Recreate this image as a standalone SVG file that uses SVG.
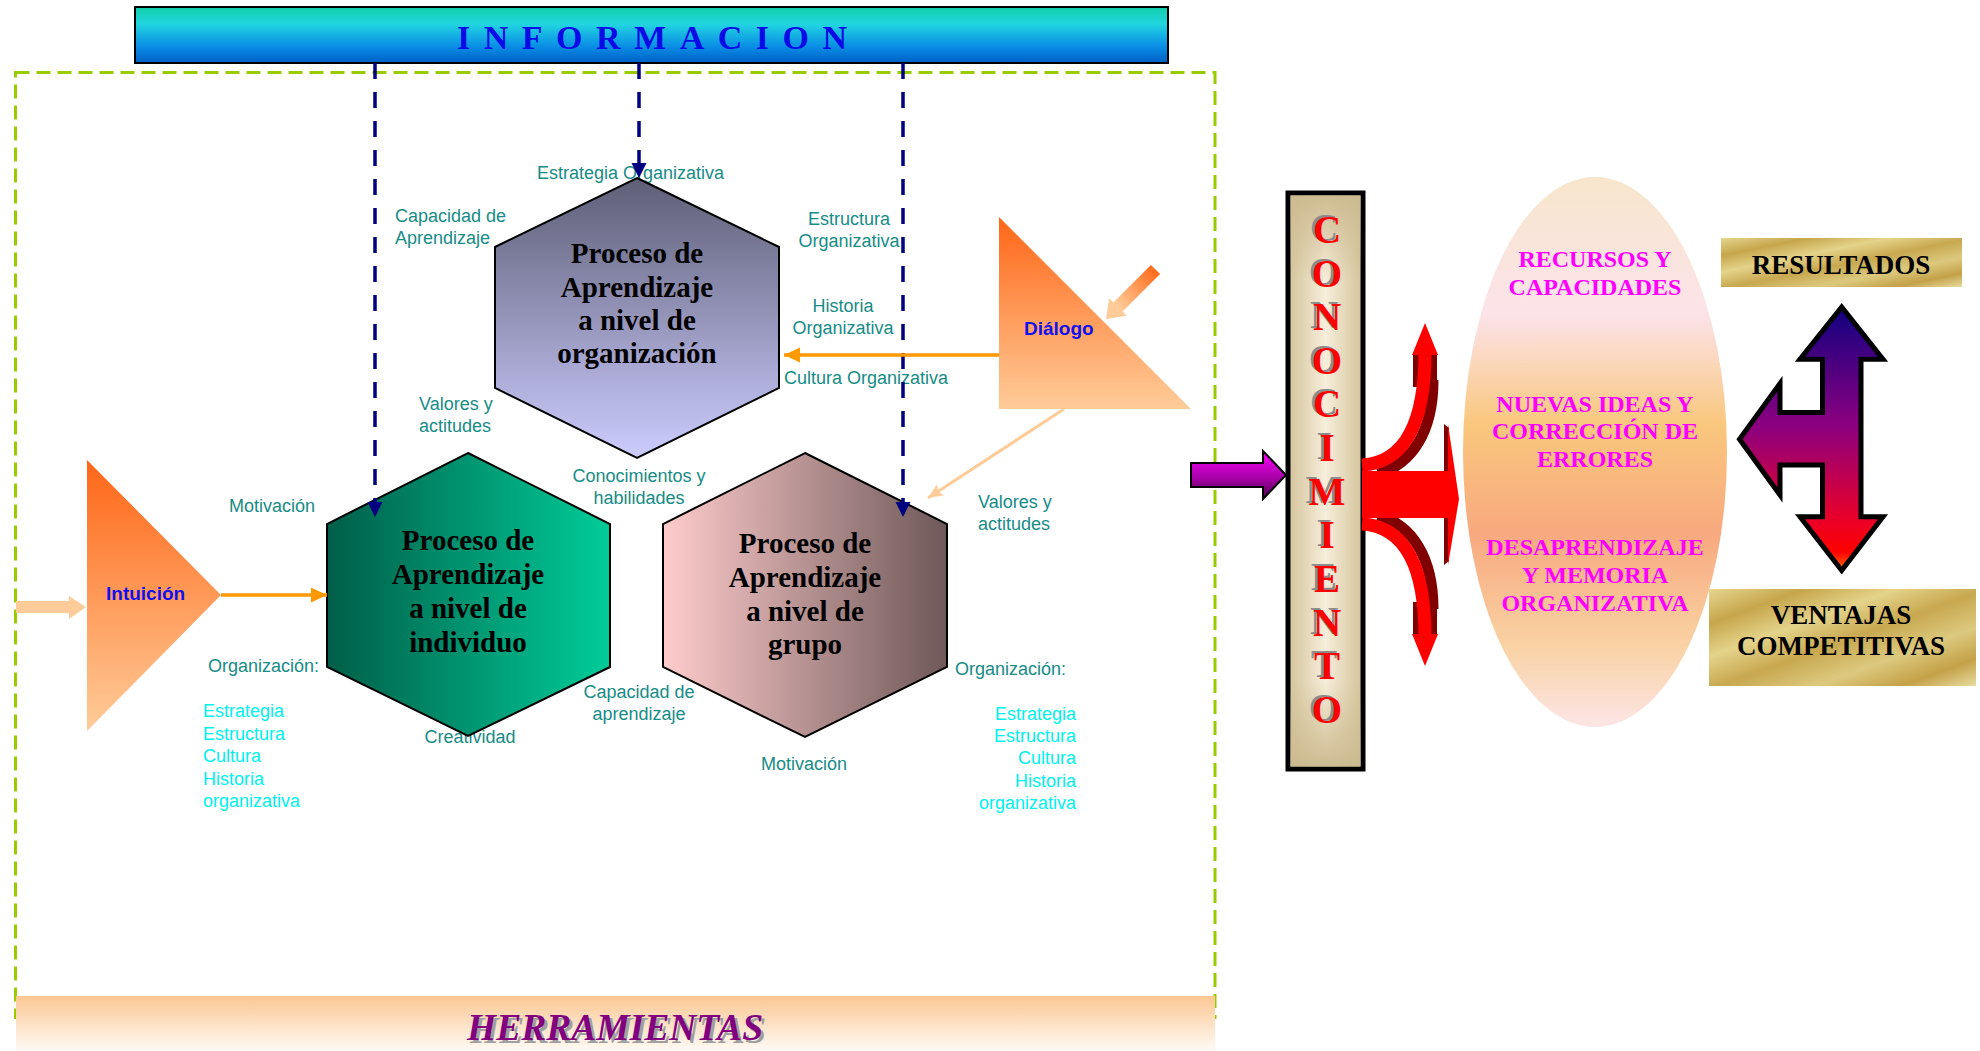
<svg xmlns="http://www.w3.org/2000/svg" width="1980" height="1051" viewBox="0 0 1980 1051">
<defs>
<linearGradient id="gInfo" x1="0" y1="0" x2="0" y2="1">
<stop offset="0" stop-color="#10CFA8"/><stop offset="0.3" stop-color="#22D6E0"/><stop offset="0.7" stop-color="#0A8EE6"/><stop offset="1" stop-color="#0060C6"/>
</linearGradient>
<linearGradient id="gHerr" x1="0" y1="0" x2="0" y2="1">
<stop offset="0" stop-color="#FCC793"/><stop offset="1" stop-color="#FFFAF5"/>
</linearGradient>
<linearGradient id="gOrg" x1="0" y1="0" x2="0" y2="1">
<stop offset="0" stop-color="#5E5E76"/><stop offset="1" stop-color="#CCCCFF"/>
</linearGradient>
<linearGradient id="gInd" x1="0" y1="0" x2="1" y2="0">
<stop offset="0" stop-color="#005E48"/><stop offset="1" stop-color="#00CC99"/>
</linearGradient>
<linearGradient id="gGrp" x1="0" y1="0" x2="1" y2="0">
<stop offset="0" stop-color="#FFCCCC"/><stop offset="1" stop-color="#6E5858"/>
</linearGradient>
<linearGradient id="gTri" x1="0" y1="0" x2="0" y2="1">
<stop offset="0" stop-color="#FF6617"/><stop offset="1" stop-color="#FFCC99"/>
</linearGradient>
<linearGradient id="gSmall" gradientUnits="userSpaceOnUse" x1="-70" y1="0" x2="-17" y2="0">
<stop offset="0" stop-color="#FF6A1A"/><stop offset="1" stop-color="#FFCC99"/>
</linearGradient>
<linearGradient id="gPurp" x1="0" y1="0" x2="0" y2="1">
<stop offset="0" stop-color="#FF00FF"/><stop offset="0.6" stop-color="#A000A0"/><stop offset="1" stop-color="#4A004A"/>
</linearGradient>
<linearGradient id="gBarH" x1="0" y1="0" x2="1" y2="0">
<stop offset="0" stop-color="#D3C39A"/><stop offset="0.5" stop-color="#F7EEDB"/><stop offset="1" stop-color="#D3C39A"/>
</linearGradient>
<linearGradient id="gBarV" x1="0" y1="0" x2="0" y2="1">
<stop offset="0" stop-color="#CDBB90" stop-opacity="1"/><stop offset="0.15" stop-color="#CDBB90" stop-opacity="0"/><stop offset="0.85" stop-color="#CDBB90" stop-opacity="0"/><stop offset="1" stop-color="#CDBB90" stop-opacity="1"/>
</linearGradient>
<linearGradient id="gEll" x1="0" y1="0" x2="0" y2="1">
<stop offset="0" stop-color="#F7E6CC"/><stop offset="0.25" stop-color="#FCE3EA"/><stop offset="0.45" stop-color="#F9C77D"/><stop offset="0.65" stop-color="#F8A97F"/><stop offset="0.85" stop-color="#F9D2A3"/><stop offset="1" stop-color="#FCE5E5"/>
</linearGradient>
<linearGradient id="gGold" x1="0" y1="0" x2="1" y2="1">
<stop offset="0" stop-color="#E6D690"/><stop offset="0.18" stop-color="#C6A64C"/><stop offset="0.35" stop-color="#E4D38A"/><stop offset="0.52" stop-color="#C8A850"/><stop offset="0.7" stop-color="#DCC97E"/><stop offset="0.86" stop-color="#C4A148"/><stop offset="1" stop-color="#E8DCA0"/>
</linearGradient>
<linearGradient id="gH" x1="0" y1="0" x2="0" y2="1">
<stop offset="0" stop-color="#100080"/><stop offset="0.45" stop-color="#8B0080"/><stop offset="0.8" stop-color="#E8002A"/><stop offset="0.93" stop-color="#FF0000"/><stop offset="1" stop-color="#FF7000"/>
</linearGradient>
<marker id="mNavy" markerUnits="userSpaceOnUse" markerWidth="16" markerHeight="16" refX="15" refY="7.5" orient="auto">
<path d="M0,0 L15,7.5 L0,15 Z" fill="#000080"/>
</marker>
<marker id="mOrange" markerUnits="userSpaceOnUse" markerWidth="17" markerHeight="16" refX="16" refY="7.5" orient="auto">
<path d="M0,0 L16,7.5 L0,15 Z" fill="#FF9900"/>
</marker>
<marker id="mPeach" markerUnits="userSpaceOnUse" markerWidth="16" markerHeight="14" refX="15" refY="6.5" orient="auto">
<path d="M0,0 L15,6.5 L0,13 L3,6.5 Z" fill="#FFCC99"/>
</marker>
</defs>
<style>
.lbl{font-family:"Liberation Sans",Arial,sans-serif;font-size:18px;fill:#168C86}
.cy{font-family:"Liberation Sans",Arial,sans-serif;font-size:18px;fill:#00F0F0}
.mid{text-anchor:middle}
.end{text-anchor:end}
.hx{font-family:"Liberation Serif","Times New Roman",serif;font-weight:bold;font-size:29px;fill:#000;text-anchor:middle}
.blue{font-family:"Liberation Sans",Arial,sans-serif;font-weight:bold;font-size:19px;fill:#1010F0}
.mag{font-family:"Liberation Serif","Times New Roman",serif;font-weight:bold;font-size:24px;fill:#FF00FF;text-anchor:middle}
.gold{font-family:"Liberation Serif","Times New Roman",serif;font-weight:bold;font-size:27px;fill:#000;text-anchor:middle}
.con{font-family:"Liberation Serif","Times New Roman",serif;font-weight:900;font-size:39px;text-anchor:middle}
.hex{stroke:#000;stroke-width:2}
</style>
<rect width="1980" height="1051" fill="#FFFFFF"/>

<g id="border">
<rect x="15.5" y="72.5" width="1199.5" height="945" fill="none" stroke="#99CC00" stroke-width="3" stroke-dasharray="14 7"/>
</g>

<g id="herramientas">
<rect x="16" y="996" width="1199" height="55" fill="url(#gHerr)"/>
<text x="618" y="1043" font-family="Liberation Serif,Times New Roman,serif" font-weight="bold" font-style="italic" font-size="38" fill="#A0A0A0" text-anchor="middle" textLength="296" lengthAdjust="spacingAndGlyphs">HERRAMIENTAS</text>
<text x="615" y="1040" font-family="Liberation Serif,Times New Roman,serif" font-weight="bold" font-style="italic" font-size="38" fill="#800080" text-anchor="middle" textLength="296" lengthAdjust="spacingAndGlyphs">HERRAMIENTAS</text>
</g>

<g id="informacion">
<rect x="135" y="7" width="1033" height="56" fill="url(#gInfo)" stroke="#000" stroke-width="2"/>
<text x="457" y="49" font-family="Liberation Serif,Times New Roman,serif" font-weight="bold" font-size="34" fill="#0A0AE6" textLength="390" lengthAdjust="spacing">INFORMACION</text>
</g>

<g id="labels">
<text class="lbl" x="537" y="179">Estrategia Organizativa</text>
<text class="lbl" x="395" y="222">Capacidad de</text>
<text class="lbl" x="395" y="244">Aprendizaje</text>
<text class="lbl mid" x="849" y="225">Estructura</text>
<text class="lbl mid" x="849" y="247">Organizativa</text>
<text class="lbl mid" x="843" y="312">Historia</text>
<text class="lbl mid" x="843" y="334">Organizativa</text>
<text class="lbl" x="784" y="384">Cultura Organizativa</text>
<text class="lbl" x="419" y="410">Valores y</text>
<text class="lbl" x="419" y="432">actitudes</text>
<text class="lbl mid" x="639" y="482">Conocimientos y</text>
<text class="lbl mid" x="639" y="504">habilidades</text>
<text class="lbl" x="229" y="512">Motivación</text>
<text class="lbl" x="208" y="672">Organización:</text>
<text class="cy" x="203" y="717">Estrategia</text>
<text class="cy" x="203" y="740">Estructura</text>
<text class="cy" x="203" y="762">Cultura</text>
<text class="cy" x="203" y="785">Historia</text>
<text class="cy" x="203" y="807">organizativa</text>
<text class="lbl mid" x="470" y="743">Creatividad</text>
<text class="lbl mid" x="639" y="698">Capacidad de</text>
<text class="lbl mid" x="639" y="720">aprendizaje</text>
<text class="lbl" x="978" y="508">Valores y</text>
<text class="lbl" x="978" y="530">actitudes</text>
<text class="lbl" x="955" y="675">Organización:</text>
<text class="cy end" x="1076" y="720">Estrategia</text>
<text class="cy end" x="1076" y="742">Estructura</text>
<text class="cy end" x="1076" y="764">Cultura</text>
<text class="cy end" x="1076" y="787">Historia</text>
<text class="cy end" x="1076" y="809">organizativa</text>
<text class="lbl mid" x="804" y="770">Motivación</text>
</g>

<g id="hex-organizacion">
<polygon class="hex" points="637,178 779,247 779,388 637,458 495,388 495,247" fill="url(#gOrg)"/>
<text class="hx" x="637" y="263">Proceso de</text>
<text class="hx" x="637" y="297">Aprendizaje</text>
<text class="hx" x="637" y="330">a nivel de</text>
<text class="hx" x="637" y="363">organización</text>
</g>

<g id="hex-individuo">
<polygon class="hex" points="468,453 610,524 610,667 468,736 327,667 327,524" fill="url(#gInd)"/>
<text class="hx" x="468" y="550">Proceso de</text>
<text class="hx" x="468" y="584">Aprendizaje</text>
<text class="hx" x="468" y="618">a nivel de</text>
<text class="hx" x="468" y="652">individuo</text>
</g>

<g id="hex-grupo">
<polygon class="hex" points="805,453 947,524 947,667 805,737 663,667 663,524" fill="url(#gGrp)"/>
<text class="hx" x="805" y="553">Proceso de</text>
<text class="hx" x="805" y="587">Aprendizaje</text>
<text class="hx" x="805" y="621">a nivel de</text>
<text class="hx" x="805" y="654">grupo</text>
</g>

<g id="intuicion">
<polygon points="87,460 221,595 87,731" fill="url(#gTri)"/>
<text class="blue" x="106" y="600" font-size="20">Intuición</text>
</g>

<g id="dialogo">
<polygon points="999,217 1191,409 999,409" fill="url(#gTri)"/>
<text class="blue" x="1024" y="335">Diálogo</text>
</g>

<g id="connectors">
<path d="M375,63 V517" stroke="#000080" stroke-width="3.5" stroke-dasharray="16 13" fill="none" marker-end="url(#mNavy)"/>
<path d="M639,63 V178" stroke="#000080" stroke-width="3.5" stroke-dasharray="16 13" fill="none" marker-end="url(#mNavy)"/>
<path d="M903,63 V517" stroke="#000080" stroke-width="3.5" stroke-dasharray="16 13" fill="none" marker-end="url(#mNavy)"/>
<path d="M999,355 H784" stroke="#FF9900" stroke-width="3.5" fill="none" marker-end="url(#mOrange)"/>
<path d="M221,595 H327" stroke="#FF9900" stroke-width="3.5" fill="none" marker-end="url(#mOrange)"/>
<path d="M1064,409 L928,498" stroke="#FFCC99" stroke-width="3" fill="none" marker-end="url(#mPeach)"/>
<path d="M16,601 H69 V596 L86,607 L69,619 V613 H16 Z" fill="#FFCC99"/>
<path transform="translate(1106,319) rotate(135)" d="M0,0 L-17,-12.5 L-17,-6.5 L-70,-6.5 L-70,6.5 L-17,6.5 L-17,12.5 Z" fill="url(#gSmall)"/>
<polygon points="1191,463 1263,463 1263,451 1286,475 1263,499 1263,487 1191,487" fill="url(#gPurp)" stroke="#000" stroke-width="2"/>
</g>

<g id="conocimiento">
<rect x="1288" y="193" width="75" height="576" fill="url(#gBarH)" stroke="#000" stroke-width="5"/>
<rect x="1290.5" y="195.5" width="70" height="571" fill="url(#gBarV)"/>
<g class="con" fill="#8C8C8C" transform="translate(-3,-2)">
<text x="1327" y="243">C</text><text x="1327" y="287">O</text><text x="1327" y="330">N</text><text x="1327" y="374">O</text><text x="1327" y="417">C</text><text x="1327" y="461">I</text><text x="1327" y="505">M</text><text x="1327" y="548">I</text><text x="1327" y="592">E</text><text x="1327" y="636">N</text><text x="1327" y="679">T</text><text x="1327" y="723">O</text>
</g>
<g class="con" fill="#FF0000">
<text x="1327" y="243">C</text><text x="1327" y="287">O</text><text x="1327" y="330">N</text><text x="1327" y="374">O</text><text x="1327" y="417">C</text><text x="1327" y="461">I</text><text x="1327" y="505">M</text><text x="1327" y="548">I</text><text x="1327" y="592">E</text><text x="1327" y="636">N</text><text x="1327" y="679">T</text><text x="1327" y="723">O</text>
</g>
</g>

<g id="red-arrows">
<g id="arm-up">
<path d="M1378,474 C1412,464 1433,432 1433,380" stroke="#800000" stroke-width="11" fill="none"/>
<rect x="1413" y="354" width="24" height="33" fill="#800000"/>
<path d="M1362,465 C1398,463 1425,434 1425,352" stroke="#FF0000" stroke-width="13" fill="none"/>
<polygon points="1412,355 1438,355 1425,323" fill="#FF0000"/>
</g>
<g transform="translate(0,989) scale(1,-1)">
<path d="M1378,474 C1412,464 1433,432 1433,380" stroke="#800000" stroke-width="11" fill="none"/>
<rect x="1413" y="354" width="24" height="33" fill="#800000"/>
<path d="M1362,465 C1398,463 1425,434 1425,352" stroke="#FF0000" stroke-width="13" fill="none"/>
<polygon points="1412,355 1438,355 1425,323" fill="#FF0000"/>
</g>
<polygon points="1444,424 1449,428 1449,561 1444,565" fill="#800000"/>
<polygon points="1448,424 1459,499 1448,565" fill="#FF0000"/>
<rect x="1362" y="471" width="87" height="47" fill="#FF0000"/>
</g>

<g id="resultados-ellipse">
<ellipse cx="1595" cy="452" rx="132" ry="275" fill="url(#gEll)"/>
<text class="mag" x="1595" y="267">RECURSOS Y</text>
<text class="mag" x="1595" y="295">CAPACIDADES</text>
<text class="mag" x="1595" y="412">NUEVAS IDEAS Y</text>
<text class="mag" x="1595" y="439">CORRECCIÓN DE</text>
<text class="mag" x="1595" y="467">ERRORES</text>
<text class="mag" x="1595" y="555">DESAPRENDIZAJE</text>
<text class="mag" x="1595" y="583">Y MEMORIA</text>
<text class="mag" x="1595" y="611">ORGANIZATIVA</text>
</g>

<g id="resultados">
<rect x="1721" y="238" width="241" height="49" fill="url(#gGold)"/>
<text class="gold" x="1841" y="274">RESULTADOS</text>
</g>

<g id="ventajas">
<rect x="1709" y="589" width="267" height="97" fill="url(#gGold)"/>
<text class="gold" x="1841" y="624">VENTAJAS</text>
<text class="gold" x="1841" y="655">COMPETITIVAS</text>
</g>

<g id="h-arrow">
<path d="M1841.7,307 L1883,359.3 L1861,359.3 L1861,516.7 L1883,516.7 L1841.7,570.5 L1800,516.7 L1822.5,516.7 L1822.5,465 L1780,465 L1780,495 L1739.5,439.3 L1780,383.5 L1780,412.5 L1822.5,412.5 L1822.5,359.3 L1800,359.3 Z" fill="url(#gH)" stroke="#000" stroke-width="5"/>
</g>
</svg>
